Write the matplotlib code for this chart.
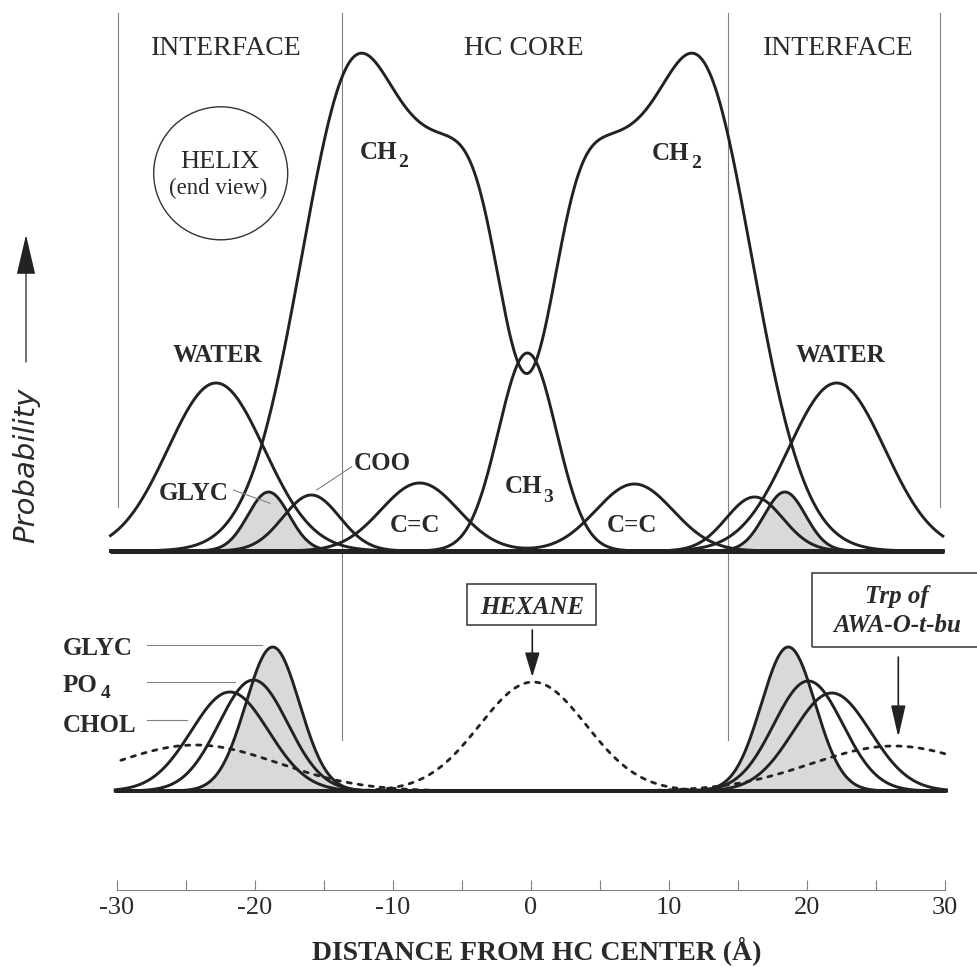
import numpy as np
import matplotlib.pyplot as plt
from matplotlib.patches import Ellipse, Rectangle

plt.rcParams['font.family'] = ['Liberation Serif', 'DejaVu Serif']
plt.rcParams['axes.unicode_minus'] = False

# gaussian components: centre (A), height, sigma (A)
# top panel - fluid bilayer groups
water_c = [-22.8, 22.15]
water_h = [168, 168]
water_s = [3.5, 3.5]

ch2_c = [-12.7, -6.3, -3.3, 2.7, 5.7, 12.1]
ch2_h = [485, 220, 195, 195, 220, 485]
ch2_s = [3.9, 2.6, 2.1, 2.1, 2.6, 3.9]

ch3_c = [-0.25]
ch3_h = [198]
ch3_s = [2.1]

cc_c = [-8.05, 7.5]
cc_h = [68, 67]
cc_s = [2.8, 2.8]

coo_c = [-15.9, 16.2]
coo_h = [56, 54]
coo_s = [2.05, 2.05]

glyc_top_c = [-19.0, 18.4]
glyc_top_h = [59, 59]
glyc_top_s = [1.5, 1.5]

# bottom panel - headgroups and solutes
glyc_c = [-18.7, 18.65]
glyc_h = [144, 144]
glyc_s = [1.95, 1.95]

po4_c = [-20.1, 20.1]
po4_h = [111, 110]
po4_s = [2.5, 2.5]

chol_c = [-21.8, 21.8]
chol_h = [99, 98]
chol_s = [2.8, 2.8]

hexane_c = [0.15]
hexane_h = [109]
hexane_s = [3.85]

trp_c = [-24.3, 26.3]
trp_h = [46, 45]
trp_s = [6.0, 6.0]

region_bounds = [-29.87, -13.65, 14.25, 29.63]
region_names = ['INTERFACE', 'HC CORE', 'INTERFACE']
tick_vals = [-30, -20, -10, 0, 10, 20, 30]
minor_vals = [-25, -15, -5, 5, 15, 25]

# pixel layout helpers (figure is 978 x 967 px)
X0 = 530.85
PX_PER_A = 13.805
H = 967


def fx(px):
    return (px - X0) / PX_PER_A


def fy(py):
    return H - py


def gauss(x, centres, heights, widths):
    y = np.zeros_like(x)
    for c, h, s in zip(centres, heights, widths):
        y += h * np.exp(-0.5 * ((x - c) / s) ** 2)
    return y


ink = '#222222'
txt = '#2a2a2a'
grey = '#808080'
shade = '#d9d9d9'

fig = plt.figure(figsize=(9.78, 9.67), dpi=100)
ax = fig.add_axes([0, 0, 1, 1])
ax.set_xlim(fx(0), fx(978))
ax.set_ylim(0, H)

# ---- top panel
top_base = fy(551)
xt = np.linspace(-30.45, 29.85, 1500)
ax.fill_between(xt, top_base, top_base + gauss(xt, glyc_top_c, glyc_top_h, glyc_top_s),
                color=shade, lw=0, zorder=1)
for c, h, s in [(water_c, water_h, water_s), (ch2_c, ch2_h, ch2_s),
                (ch3_c, ch3_h, ch3_s), (cc_c, cc_h, cc_s),
                (coo_c, coo_h, coo_s), (glyc_top_c, glyc_top_h, glyc_top_s)]:
    ax.plot(xt, top_base + gauss(xt, c, h, s), color=ink, lw=2.1, zorder=2)
ax.plot([-30.5, 29.9], [top_base, top_base], color=ink, lw=3.6,
        solid_capstyle='butt', zorder=3)

# ---- bottom panel
bot_base = fy(791)
xb = np.linspace(-30.1, 30.1, 1500)
xd = np.linspace(-29.7, 30.0, 1500)
for c, h, s in [(hexane_c, hexane_h, hexane_s), (trp_c, trp_h, trp_s)]:
    ax.plot(xd, bot_base + gauss(xd, c, h, s), color=ink, lw=2.0,
            dashes=(1.5, 2.5), dash_capstyle='round', zorder=2)
ax.fill_between(xb, bot_base, bot_base + gauss(xb, glyc_c, glyc_h, glyc_s),
                color=shade, lw=0, zorder=1)
for c, h, s in [(glyc_c, glyc_h, glyc_s), (po4_c, po4_h, po4_s), (chol_c, chol_h, chol_s)]:
    ax.plot(xb, bot_base + gauss(xb, c, h, s), color=ink, lw=2.1, zorder=2)
ax.plot([-30.1, 30.1], [bot_base, bot_base], color=ink, lw=2.9,
        solid_capstyle='butt', zorder=3)

# ---- region dividers and names
line_bottoms = [507, 740, 740, 507]
for xv, pb in zip(region_bounds, line_bottoms):
    ax.plot([xv, xv], [fy(13), fy(pb)], color=grey, lw=0.8, zorder=0)
for name, px in zip(region_names, [226.5, 524, 838]):
    ax.text(fx(px), fy(55), name, fontsize=20, ha='center', va='baseline', color=txt)

# helix end view
ax.add_patch(Ellipse((fx(220.7), fy(173.3)), 2 * 67 / PX_PER_A, 2 * 66.5,
                     fill=False, ec='#333333', lw=1.0))
ax.text(fx(220), fy(168.3), 'HELIX', fontsize=19, ha='center', va='baseline', color=txt)
ax.text(fx(218.3), fy(194), '(end view)', fontsize=16.5, ha='center', va='baseline', color=txt)

# ---- top labels
bold = dict(fontsize=18, fontweight='bold', color=txt, va='baseline')
sub = dict(fontsize=14, fontweight='bold', color=txt, va='baseline', ha='left')


def sub_label(px, py, main, digit, dpx, dpy):
    ax.text(fx(px), fy(py), main, ha='left', **bold)
    ax.text(fx(dpx), fy(dpy), digit, **sub)


sub_label(360, 159.3, 'CH', '2', 398.5, 166.7)
sub_label(651.7, 160, 'CH', '2', 691.5, 168.3)
sub_label(505, 493, 'CH', '3', 543.5, 501.7)
ax.text(fx(217.5), fy(361.7), 'WATER', ha='center', **bold)
ax.text(fx(841), fy(361.7), 'WATER', ha='center', **bold)
ax.text(fx(194), fy(500), 'GLYC', ha='center', **bold)
ax.text(fx(382.5), fy(470), 'COO', ha='center', **bold)
ax.text(fx(415), fy(531.7), 'C=C', ha='center', **bold)
ax.text(fx(631.7), fy(531.7), 'C=C', ha='center', **bold)
ax.plot([fx(233.3), fx(270)], [fy(490), fy(503.3)], color=grey, lw=0.8)
ax.plot([fx(351.7), fx(316.7)], [fy(466.7), fy(490)], color=grey, lw=0.8)

# ---- bottom labels
ax.text(fx(63), fy(655), 'GLYC', ha='left', **bold)
sub_label(63, 692, 'PO', '4', 100.5, 698.3)
ax.text(fx(63), fy(732), 'CHOL', ha='left', **bold)
for pxe, pyl in [(261.7, 645), (235, 681.7), (186.7, 720)]:
    ax.plot([fx(146.7), fx(pxe)], [fy(pyl), fy(pyl)], color=grey, lw=0.8)

boxed = dict(fontsize=18, fontweight='bold', fontstyle='italic', color=txt,
             ha='center', va='baseline')
ax.add_patch(Rectangle((fx(467.3), fy(625)), (596 - 467.3) / PX_PER_A, 41,
                       fill=False, ec='#333333', lw=1.1))
ax.text(fx(531.7), fy(613.5), 'HEXANE', **boxed)
ax.annotate('', xy=(fx(532.3), fy(677)), xytext=(fx(532.3), fy(630)),
            arrowprops=dict(arrowstyle='-|>,head_length=1.0,head_width=0.3',
                            mutation_scale=15, color=ink, lw=1.2,
                            shrinkA=0, shrinkB=0))

ax.add_patch(Rectangle((fx(811.7), fy(647)), (995 - 811.7) / PX_PER_A, 74,
                       fill=False, ec='#333333', lw=1.1, clip_on=False))
ax.text(fx(897), fy(603.3), 'Trp of', **boxed)
ax.text(fx(897), fy(631.7), 'AWA-O-t-bu', **boxed)
ax.annotate('', xy=(fx(898.3), fy(737)), xytext=(fx(898.3), fy(657)),
            arrowprops=dict(arrowstyle='-|>,head_length=1.3,head_width=0.3',
                            mutation_scale=15, color=ink, lw=1.2,
                            shrinkA=0, shrinkB=0))

# ---- probability arrow + label
ax.annotate('', xy=(fx(26), fy(235)), xytext=(fx(26), fy(362)),
            arrowprops=dict(arrowstyle='-|>,head_length=1.7,head_width=0.4',
                            mutation_scale=15, color=ink, lw=0.9,
                            shrinkA=0, shrinkB=0))
ax.set_ylabel('Probability', fontsize=21, fontstyle='italic',
              family=['DejaVu Sans'], color=txt, va='center', ha='center')
ax.yaxis.set_label_coords(fx(26.7), fy(465), transform=ax.transData)

# ---- distance axis
for side in ['left', 'right', 'top']:
    ax.spines[side].set_visible(False)
ax.spines['bottom'].set_position(('data', fy(890)))
ax.spines['bottom'].set_bounds(-30, 30)
ax.spines['bottom'].set_color(grey)
ax.spines['bottom'].set_linewidth(0.8)
ax.set_xticks(tick_vals)
ax.set_xticklabels([str(v) for v in tick_vals])
ax.set_xticks(minor_vals, minor=True)
ax.tick_params(axis='x', which='both', direction='in', length=7.5, width=0.8,
               color=grey)
ax.tick_params(axis='x', which='major', labelsize=19, labelcolor=txt, pad=5)
ax.set_yticks([])
ax.set_xlabel('DISTANCE FROM HC CENTER (\u00c5)', fontsize=20, fontweight='bold',
              color=txt, va='center')
ax.xaxis.set_label_coords(fx(536.7), fy(951), transform=ax.transData)

fig.savefig('out.png', dpi=100)
